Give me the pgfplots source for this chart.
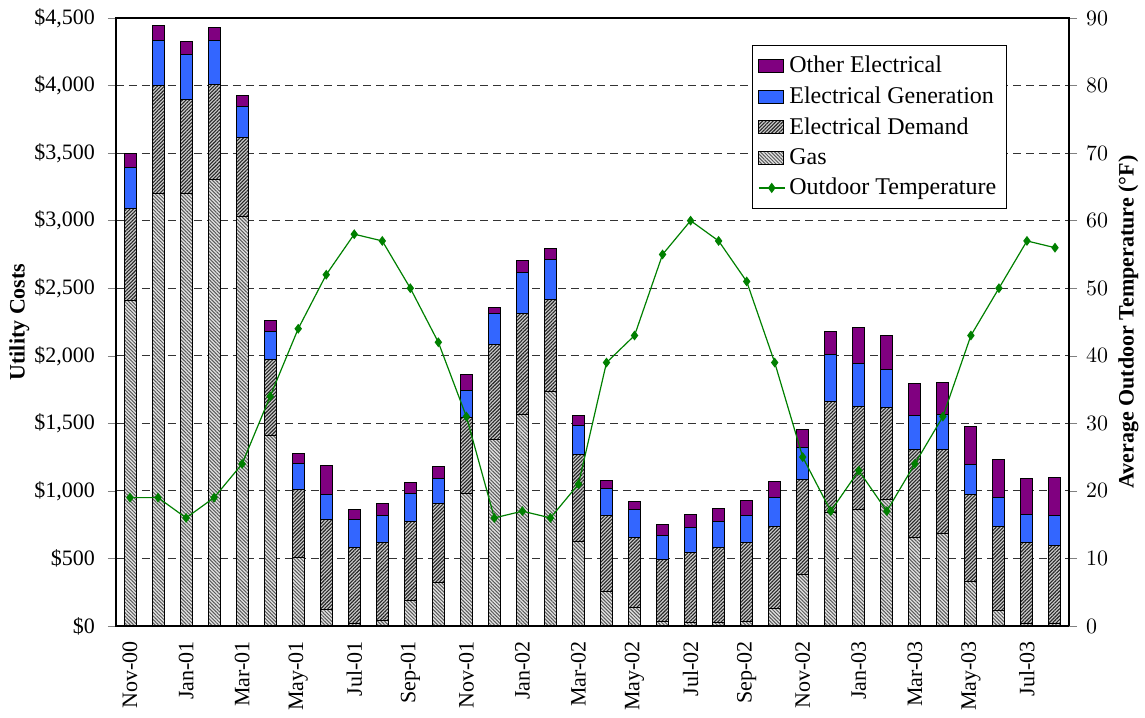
\documentclass[border=0pt]{standalone}
\usepackage{fontspec}
\setmainfont{Liberation Serif}
\usepackage{pgfplots}
\usepackage{pgfplotstable}
\pgfplotsset{compat=1.18}
\usetikzlibrary{patterns.meta}
\definecolor{oth}{RGB}{128,0,128}
\definecolor{gen}{RGB}{51,102,255}
\definecolor{tmp}{RGB}{0,128,0}

\pgfplotstableread{
x gas dem gen oth temp
0 2410 680 306 100 19
1 3200 800 330 115 19
2 3200 700 327 100 16
3 3308 702 326 94 19
4 3033 584 229 79 24
5 1412 563 208 79 34
6 505 502 197 69 44
7 121 665 185 214 52
8 21 557 208 76 58
9 42 578 196 91 57
10 187 584 206 84 50
11 320 584 185 90 42
12 980 562 203 118 31
13 1382 701 230 46 16
14 1569 741 303 93 17
15 1733 680 299 85 16
16 626 644 215 75 21
17 257 559 203 61 39
18 136 520 206 60 43
19 30 463 175 82 55
20 24 517 191 90 60
21 24 560 190 97 57
22 36 584 199 112 51
23 130 605 218 117 39
24 378 708 235 134 25
25 840 823 345 169 17
26 862 762 317 269 23
27 937 683 282 251 17
28 656 647 254 236 24
29 686 617 260 236 31
30 330 641 223 282 43
31 112 623 218 281 50
32 15 605 206 269 57
33 15 581 220 282 56
}\data

\tikzset{
  gasstyle/.style={draw=black, line width=0.5pt, fill=gray!22,
    postaction={pattern={Lines[angle=-45,distance=1.25pt,line width=0.5pt]}, pattern color=black!65}},
  demstyle/.style={draw=black, line width=0.5pt, fill=gray!40,
    postaction={pattern={Lines[angle=45,distance=1.25pt,line width=0.55pt]}, pattern color=black!85}},
}
\pgfplotsset{
  boxlegend/.style={legend image code/.code={\draw[##1] (0pt,-3.3pt) rectangle (12.5pt,3.3pt);}},
}

\begin{document}
\begin{tikzpicture}
\begin{axis}[
  scale only axis, width=476.5pt, height=304pt,
  xmin=-0.5, xmax=33.5, ymin=0, ymax=4500,
  ybar stacked, bar width=6pt,
  xtick={0,2,...,32},
  xticklabels={Nov-00,Jan-01,Mar-01,May-01,Jul-01,Sep-01,Nov-01,Jan-02,Mar-02,May-02,Jul-02,Sep-02,Nov-02,Jan-03,Mar-03,May-03,Jul-03},
  x tick label style={rotate=90, anchor=east, font=\fontsize{11}{13}\selectfont},
  xtick pos=bottom, major x tick style={draw=none},
  ytick={0,500,...,4500},
  yticklabels={\$0,\$500,{\$1,000},{\$1,500},{\$2,000},{\$2,500},{\$3,000},{\$3,500},{\$4,000},{\$4,500}},
  y tick label style={font=\fontsize{11}{13}\selectfont, xshift=-3pt},
  ytick pos=left, tick align=outside, major tick length=4pt,
  ymajorgrids, major grid style={dash pattern=on 4pt off 2.5pt, black!80, line width=0.5pt},
  ylabel={Utility Costs}, ylabel style={font=\bfseries\fontsize{11}{13}\selectfont, inner sep=0pt, at={(axis description cs:-0.0905,0.5)}},
  axis line style={line width=0.6pt},
  reverse legend,
  legend style={at={(0.667,0.956)}, anchor=north west, draw=black, line width=0.5pt,
    font=\fontsize{12}{14}\selectfont, row sep=1.5pt, inner xsep=3pt, inner ysep=3.5pt},
  legend cell align=left,
]
\addlegendimage{legend image code/.code={\draw[tmp, line width=0.6pt] (0pt,0pt) -- (13pt,0pt);
  \fill[tmp] (6.5pt,0pt) +(0,2.2pt) -- +(1.6pt,0) -- +(0,-2.2pt) -- +(-1.6pt,0) -- cycle;}}
\addlegendentry{Outdoor Temperature}
\addplot[gasstyle, boxlegend] table[x=x,y=gas]{\data};
\addlegendentry{Gas}
\addplot[demstyle, boxlegend] table[x=x,y=dem]{\data};
\addlegendentry{Electrical Demand}
\addplot[draw=black, line width=0.5pt, fill=gen, boxlegend] table[x=x,y=gen]{\data};
\addlegendentry{Electrical Generation}
\addplot[draw=black, line width=0.5pt, fill=oth, boxlegend] table[x=x,y=oth]{\data};
\addlegendentry{Other Electrical}
\path (rel axis cs:0,0) ++(-58pt,-42.5pt) coordinate (bbsw);
\path (rel axis cs:1,1) ++(38pt,9pt) coordinate (bbne);
\end{axis}
\begin{axis}[
  scale only axis, width=476.5pt, height=304pt,
  xmin=-0.5, xmax=33.5, ymin=0, ymax=90,
  axis x line=none, axis y line*=right,
  ytick={0,10,...,90},
  y tick label style={font=\fontsize{11}{13}\selectfont, xshift=1pt},
  tick align=outside, major tick length=4pt,
  axis line style={line width=0.6pt},
  ylabel={Average Outdoor Temperature (°F)},
  ylabel style={font=\bfseries\fontsize{11}{13}\selectfont, inner sep=0pt, at={(axis description cs:1.0514,0.5)}},
]
\addplot[color=tmp, mark=diamond*, mark size=2pt, line width=0.6pt] table[x=x,y=temp]{\data};
\end{axis}
\path (bbsw) (bbne);
\end{tikzpicture}
\end{document}
